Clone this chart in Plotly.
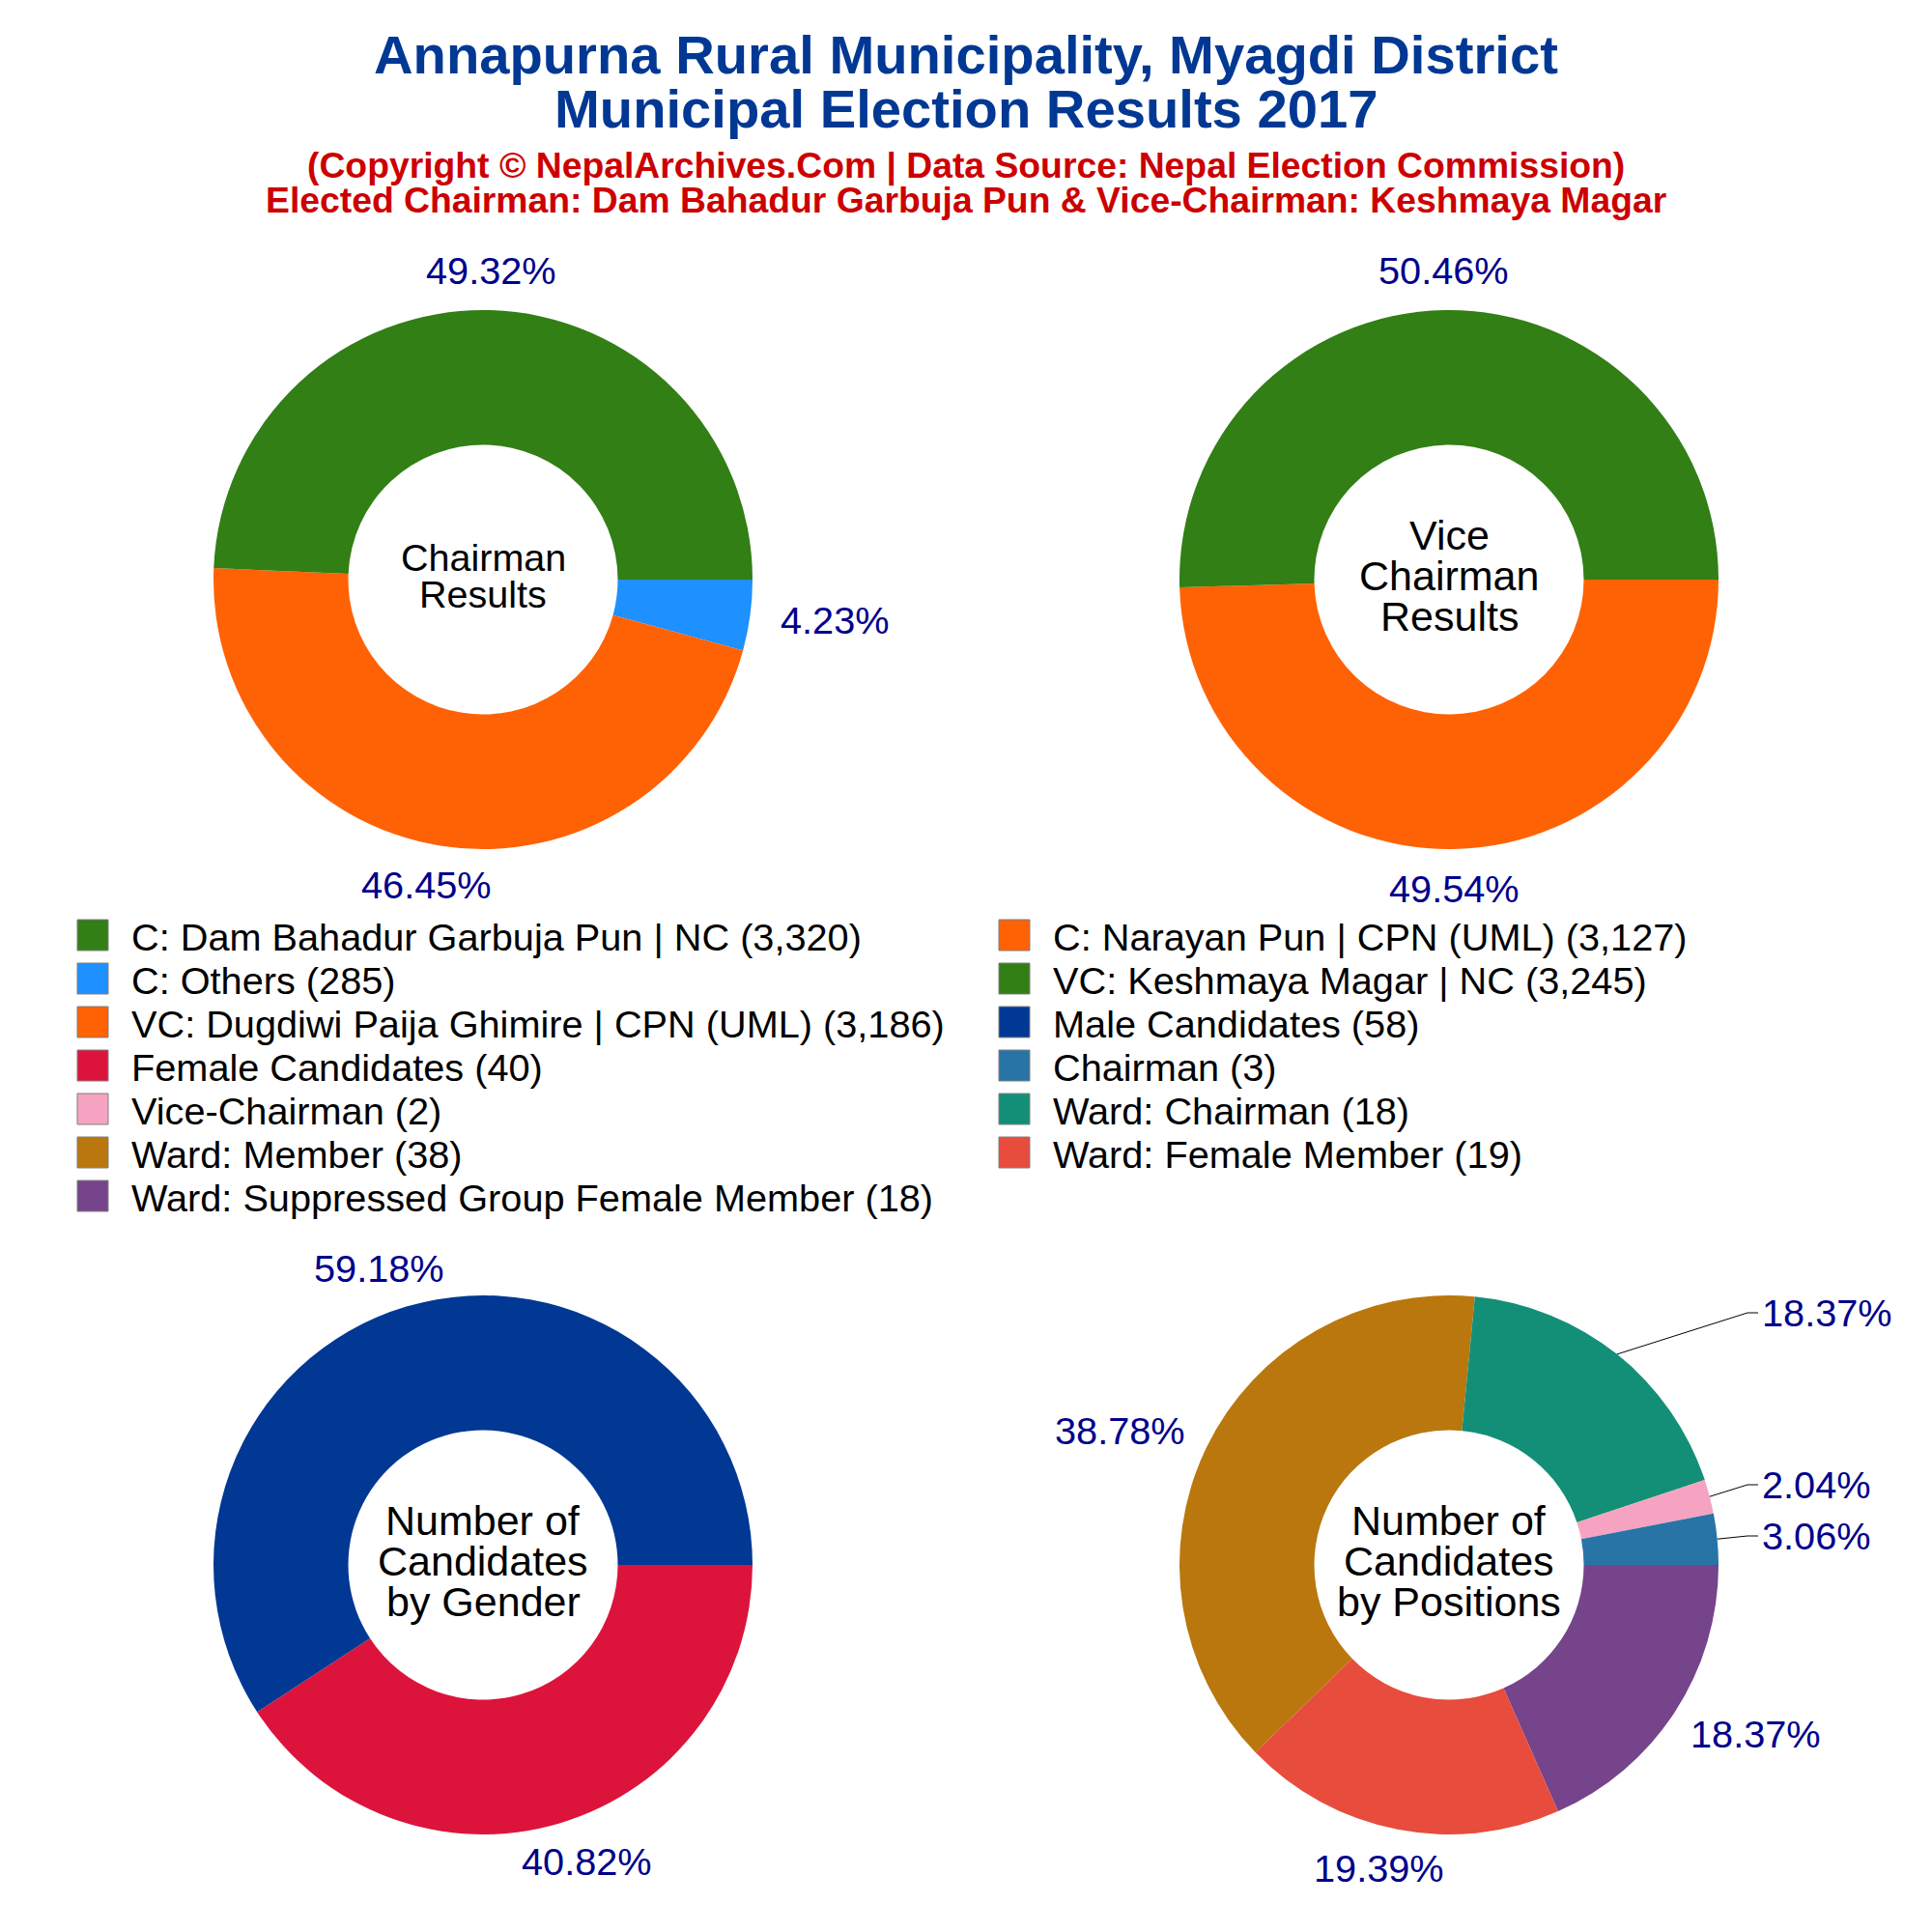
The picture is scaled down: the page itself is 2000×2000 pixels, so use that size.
import math
import plotly.graph_objects as go

title_lines = ["Annapurna Rural Municipality, Myagdi District", "Municipal Election Results 2017"]
subtitle_lines = ["(Copyright © NepalArchives.Com | Data Source: Nepal Election Commission)",
                  "Elected Chairman: Dam Bahadur Garbuja Pun & Vice-Chairman: Keshmaya Magar"]

chair_labels = ["C: Dam Bahadur Garbuja Pun | NC", "C: Narayan Pun | CPN (UML)", "C: Others"]
chair_values = [3320, 3127, 285]
chair_colors = ["#317F15", "#FF6205", "#1E90FF"]

vice_labels = ["VC: Keshmaya Magar | NC", "VC: Dugdiwi Paija Ghimire | CPN (UML)"]
vice_values = [3245, 3186]
vice_colors = ["#317F15", "#FF6205"]

gender_labels = ["Male Candidates", "Female Candidates"]
gender_values = [58, 40]
gender_colors = ["#003893", "#DC143C"]

pos_labels = ["Chairman", "Vice-Chairman", "Ward: Chairman", "Ward: Member", "Ward: Female Member",
              "Ward: Suppressed Group Female Member"]
pos_values = [3, 2, 18, 38, 19, 18]
pos_colors = ["#2874A6", "#F5A3C0", "#148F77", "#B9770E", "#E74C3C", "#76448A"]

center_texts = [["Chairman", "Results"], ["Vice", "Chairman", "Results"],
                ["Number of", "Candidates", "by Gender"], ["Number of", "Candidates", "by Positions"]]

W = H = 2000
OFF = 8  # the page's body margin shifts the figure by this many pixels
FONT = "Liberation Sans, Arial, sans-serif"
NAVY = "#00008B"
R = 279
PCT_SIZE = 39.7
centers = [(500, 600), (1500, 600), (500, 1620), (1500, 1620)]
series = [(chair_labels, chair_values, chair_colors), (vice_labels, vice_values, vice_colors),
          (gender_labels, gender_values, gender_colors), (pos_labels, pos_values, pos_colors)]
# labels pulled aside with a leader line: (series index, slice index) -> label centre height
leader_label_y = {(3, 2): 1359, (3, 1): 1537, (3, 0): 1590}
LEADER_ELBOW_X, LEADER_END_X, LEADER_TEXT_X = 1809, 1820, 1822


def px(x):
    return (x - OFF) / W


def py(y):
    return 1 - (y - OFF) / H


fig = go.Figure()
for (labels, values, colors), (cx, cy) in zip(series, centers):
    fig.add_trace(go.Pie(
        labels=labels[::-1], values=values[::-1], hole=0.5, sort=False, direction="clockwise", rotation=90,
        marker=dict(colors=colors[::-1], line=dict(width=0)),
        textinfo="none", showlegend=False, hoverinfo="label+value+percent",
        domain=dict(x=[px(cx - R), px(cx + R)], y=[py(cy + R), py(cy - R)]),
    ))

ann = []
shapes = []


def text(x, y, s, size, color="black", bold=False, anchor="center"):
    ann.append(dict(x=px(x), y=py(y), xref="paper", yref="paper", xanchor=anchor, yanchor="middle",
                    text=f"<b>{s}</b>" if bold else s, showarrow=False,
                    font=dict(family=FONT, size=size, color=color)))


for s, y in zip(title_lines, [56, 112]):
    text(1000, y, s, 56.2, "#003893", True)
for s, y in zip(subtitle_lines, [172, 207]):
    text(1000, y, s, 37.3, "#CC0000", True)

for lines, (cx, cy), (size, lh) in zip(center_texts, centers, [(39.5, 38), (43, 42), (43, 42), (43, 42)]):
    n = len(lines)
    for i, s in enumerate(lines):
        text(cx, cy - 4 + (i - (n - 1) / 2) * lh, s, size)

# percentage labels, placed from the slice mid-angles
for k, ((labels, values, colors), (cx, cy)) in enumerate(zip(series, centers)):
    total = sum(values)
    cum = 0
    for j, v in enumerate(values):
        mid = (cum + v / 2) / total * 2 * math.pi  # counter-clockwise from east
        cum += v
        ux, uy = math.cos(mid), -math.sin(mid)
        label = f"{v / total * 100:.2f}%"
        hw = 0.5 * PCT_SIZE * (0.556 * (len(label) - 2) + 0.278 + 0.889)
        hh = 22
        if (k, j) in leader_label_y:
            ly = leader_label_y[(k, j)]
            text(LEADER_TEXT_X, ly, label, PCT_SIZE, NAVY, anchor="left")
            sx, sy = cx + R * ux, cy + R * uy
            shapes.append(dict(type="path", xref="paper", yref="paper",
                               path=f"M{px(sx)},{py(sy)} L{px(LEADER_ELBOW_X)},{py(ly)} L{px(LEADER_END_X)},{py(ly)}",
                               line=dict(color="black", width=1)))
        else:
            lx = cx + (R + 32) * ux + ux * hw
            ly = cy + (R + 19) * uy + uy * hh
            text(lx, ly, label, PCT_SIZE, NAVY)

legend_items = []
for labels, values, colors in series:
    legend_items += [(f"{l} ({v:,})", c) for l, v, c in zip(labels, values, colors)]

for i, (s, c) in enumerate(legend_items):
    col, row = i % 2, i // 2
    x0 = [80, 1034][col]
    yc = 968 + row * 45
    shapes.append(dict(type="rect", xref="paper", yref="paper", x0=px(x0), x1=px(x0 + 32),
                       y0=py(yc + 16), y1=py(yc - 16), fillcolor=c,
                       line=dict(color="#808080", width=1)))
    text(x0 + 54, yc + 2, s, 39.7, anchor="left")

fig.update_layout(width=W, height=H, margin=dict(l=0, r=0, t=0, b=0), paper_bgcolor="white",
                  plot_bgcolor="white", showlegend=False, annotations=ann, shapes=shapes,
                  font=dict(family=FONT))
fig.write_html("out.html")
